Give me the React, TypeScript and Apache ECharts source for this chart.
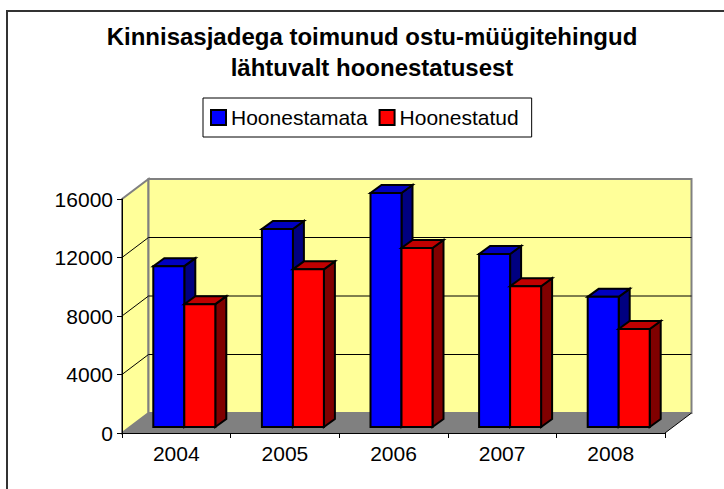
import React, { useEffect, useRef } from "react";
import * as echarts from "echarts";

const categories = ["2004", "2005", "2006", "2007", "2008"];
const unbuilt = [11000, 13540, 16000, 11830, 8900];
const built = [8400, 10780, 12240, 9620, 6700];
const gridValues = [0, 4000, 8000, 12000, 16000];
const titleText = "Kinnisasjadega toimunud ostu-müügitehingud\nlähtuvalt hoonestatusest";
const seriesNames = ["Hoonestamata", "Hoonestatud"];

const FONT = "Liberation Sans";
const WALL_DX = 26.5;
const WALL_DY = -20;
const FLOOR_DX = 8;
const FLOOR_DY = -6;
const BAR_DX = 11;
const BAR_DY = -8;
const BAR_W = 31;

function wallsItem(_params: any, api: any) {
  const n = categories.length;
  const [l0, b0] = api.coord([0, 0]);
  const band = api.size([1, 0])[0];
  const left = l0 - band / 2;
  const right = left + band * n;
  const top = api.coord([0, 16000])[1];
  const children: any[] = [];
  children.push({
    type: "polygon",
    shape: { points: [[left, b0], [left + WALL_DX, b0 + WALL_DY], [left + WALL_DX, top + WALL_DY], [left, top]] },
    style: { fill: "#FFFF99", stroke: "#808080", lineWidth: 2 },
  });
  children.push({
    type: "rect",
    shape: { x: left + WALL_DX, y: top + WALL_DY, width: right - left, height: b0 - top },
    style: { fill: "#FFFF99", stroke: "#808080", lineWidth: 2 },
  });
  gridValues.slice(1, 4).forEach((v) => {
    const y = api.coord([0, v])[1];
    children.push({
      type: "polyline",
      shape: { points: [[left, y], [left + WALL_DX, y + WALL_DY], [right + WALL_DX, y + WALL_DY]] },
      style: { fill: "none", stroke: "#000", lineWidth: 1 },
    });
  });
  children.push({
    type: "polygon",
    shape: { points: [[left, b0], [right, b0], [right + WALL_DX, b0 + WALL_DY], [left + WALL_DX, b0 + WALL_DY]] },
    style: { fill: "#808080", stroke: "none" },
  });
  children.push({
    type: "line",
    shape: { x1: right, y1: b0, x2: right + WALL_DX, y2: b0 + WALL_DY },
    style: { stroke: "#000", lineWidth: 1 },
  });
  return { type: "group", children };
}

function barItem(offset: number, front: string, topFace: string, sideFace: string) {
  return (_params: any, api: any) => {
    const [cx, yTop0] = api.coord([api.value(0), api.value(1)]);
    const yBase0 = api.coord([api.value(0), 0])[1];
    const x0 = cx + FLOOR_DX + offset * BAR_W;
    const x1 = x0 + BAR_W;
    const yTop = yTop0 + FLOOR_DY;
    const yBase = yBase0 + FLOOR_DY;
    const line = { stroke: "#000", lineWidth: 2, lineJoin: "miter" };
    return {
      type: "group",
      children: [
        {
          type: "polygon",
          shape: { points: [[x1, yBase], [x1 + BAR_DX, yBase + BAR_DY], [x1 + BAR_DX, yTop + BAR_DY], [x1, yTop]] },
          style: { fill: sideFace, ...line },
        },
        {
          type: "polygon",
          shape: { points: [[x0, yTop], [x1, yTop], [x1 + BAR_DX, yTop + BAR_DY], [x0 + BAR_DX, yTop + BAR_DY]] },
          style: { fill: topFace, ...line },
        },
        {
          type: "rect",
          shape: { x: x0, y: yTop, width: BAR_W, height: yBase - yTop },
          style: { fill: front, ...line },
        },
      ],
    };
  };
}

export default function App() {
  const ref = useRef<HTMLDivElement>(null);
  useEffect(() => {
    const chart = echarts.init(ref.current!, undefined, { renderer: "svg" });
    chart.setOption({
      animation: false,
      backgroundColor: "#fff",
      title: {
        text: titleText,
        left: 367,
        top: 16,
        textAlign: "center",
        textStyle: { fontFamily: FONT, fontWeight: "bold", fontSize: 24, lineHeight: 31, color: "#000" },
      },
      legend: {
        left: 203,
        top: 98,
        data: seriesNames,
        icon: "rect",
        itemWidth: 15,
        itemHeight: 15,
        itemGap: 11,
        padding: [9, 13, 9, 7],
        borderColor: "#000",
        borderWidth: 1,
        backgroundColor: "#fff",
        itemStyle: { borderColor: "#000", borderWidth: 2 },
        textStyle: { fontFamily: FONT, fontSize: 21, color: "#000" },
      },
      grid: { left: 122, right: 59, top: 199, bottom: 56 },
      xAxis: {
        type: "category",
        data: categories,
        boundaryGap: true,
        axisLine: { lineStyle: { color: "#000", width: 1 } },
        axisTick: { show: true, length: 5, alignWithLabel: false, lineStyle: { color: "#000" } },
        axisLabel: { fontFamily: FONT, fontSize: 21, color: "#000", margin: 10, interval: 0 },
        splitLine: { show: false },
      },
      yAxis: {
        type: "value",
        min: 0,
        max: 16000,
        interval: 4000,
        axisLine: { show: true, lineStyle: { color: "#000", width: 1 } },
        axisTick: { show: true, length: 5, lineStyle: { color: "#000" } },
        axisLabel: { fontFamily: FONT, fontSize: 21, color: "#000", margin: 9, formatter: (v: number) => String(v) },
        splitLine: { show: false },
      },
      series: [
        {
          type: "custom",
          name: "walls",
          silent: true,
          clip: false,
          z: 0,
          renderItem: wallsItem,
          data: [[0, 0]],
          encode: { x: 0, y: 1 },
        },
        {
          type: "custom",
          name: seriesNames[0],
          clip: false,
          z: 2,
          itemStyle: { color: "#0000FF" },
          renderItem: barItem(-1, "#0000FF", "#0000C0", "#000080"),
          data: categories.map((_, i) => [i, unbuilt[i]]),
          encode: { x: 0, y: 1 },
        },
        {
          type: "custom",
          name: seriesNames[1],
          clip: false,
          z: 3,
          itemStyle: { color: "#FF0000" },
          renderItem: barItem(0, "#FF0000", "#C00000", "#800000"),
          data: categories.map((_, i) => [i, built[i]]),
          encode: { x: 0, y: 1 },
        },
      ],
      graphic: [
        {
          type: "polyline",
          silent: true,
          z: -1,
          shape: { points: [[7, 489], [7, 11], [724, 11]] },
          style: { fill: "none", stroke: "#333", lineWidth: 2 },
        },
      ],
    });
    return () => chart.dispose();
  }, []);
  return <div ref={ref} style={{ position: "absolute", left: 0, top: 0, width: 724, height: 489 }} />;
}
